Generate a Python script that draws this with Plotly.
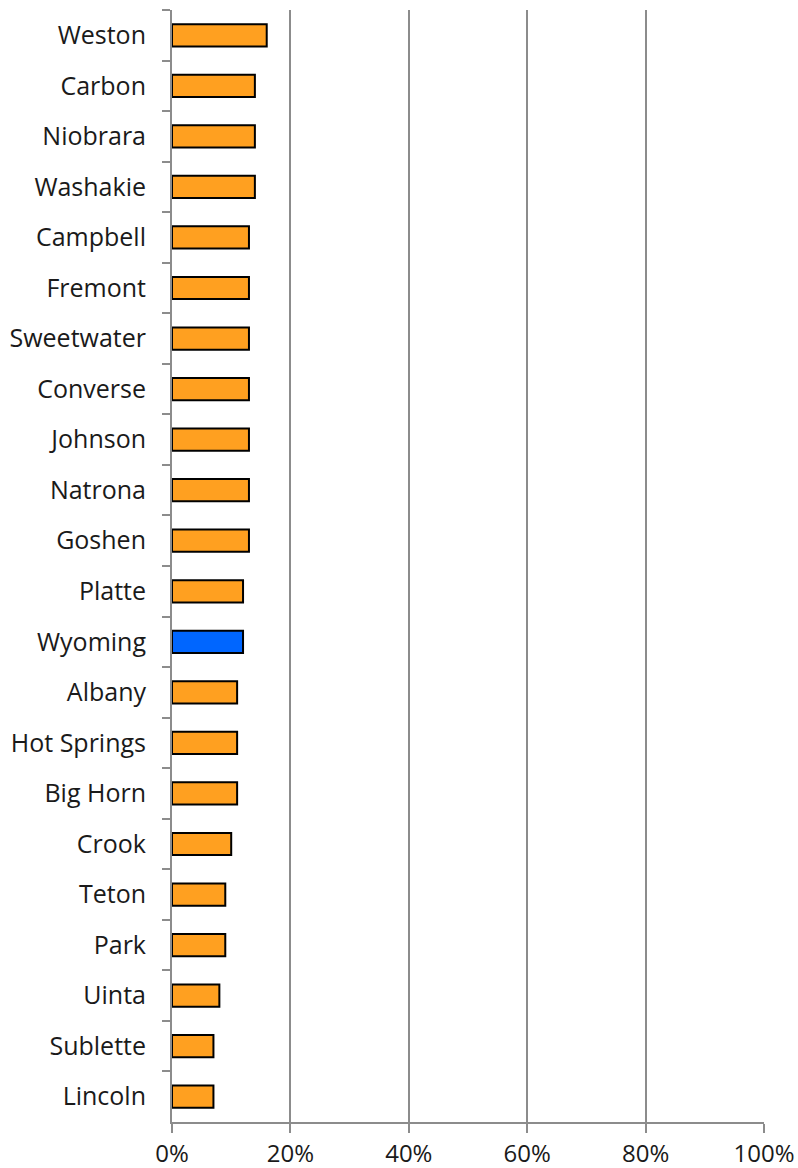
import plotly.graph_objects as go

counties = ["Weston", "Carbon", "Niobrara", "Washakie", "Campbell", "Fremont",
            "Sweetwater", "Converse", "Johnson", "Natrona", "Goshen", "Platte",
            "Wyoming", "Albany", "Hot Springs", "Big Horn", "Crook", "Teton",
            "Park", "Uinta", "Sublette", "Lincoln"]
values = [16, 14, 14, 14, 13, 13, 13, 13, 13, 13, 13, 12,
          12, 11, 11, 11, 10, 9, 9, 8, 7, 7]

state_name = "Wyoming"
colors = ["#0066FF" if c == state_name else "#FFA020" for c in counties]

fig = go.Figure(go.Bar(
    x=values,
    y=counties,
    orientation="h",
    marker=dict(color=colors, line=dict(color="black", width=2)),
    width=0.44,
    hoverinfo="x+y",
))

fig.update_layout(
    width=798, height=1168,
    margin=dict(l=172, r=34, t=10, b=46, autoexpand=False),
    plot_bgcolor="white", paper_bgcolor="white",
    font=dict(family="Open Sans", size=25, color="#1a1a1a"),
    showlegend=False,
)
fig.update_xaxes(
    range=[0, 100], tickvals=[0, 20, 40, 60, 80, 100],
    ticktext=["0%", "20%", "40%", "60%", "80%", "100%"],
    tickfont=dict(size=24),
    showgrid=True, gridcolor="#8c8c8c", gridwidth=1.5,
    showline=True, linecolor="#8c8c8c", linewidth=2,
    ticks="outside", ticklen=9, tickcolor="#8c8c8c", tickwidth=2,
    ticklabelstandoff=0, zeroline=False, automargin=False,
)
fig.update_yaxes(
    categoryorder="array", categoryarray=counties, autorange="reversed",
    showline=True, linecolor="#8c8c8c", linewidth=2,
    ticks="outside", tickson="boundaries", ticklen=8,
    tickcolor="#8c8c8c", tickwidth=2, ticklabelstandoff=19,
    showgrid=False, automargin=False,
)

fig.write_html("out.html")
